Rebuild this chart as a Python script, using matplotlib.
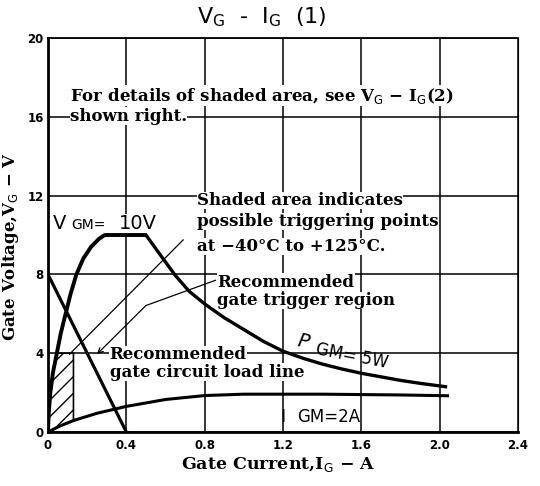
import matplotlib
matplotlib.use("Agg")
import matplotlib.pyplot as plt

# gate characteristic curves (I in A, V in V)
vgm_i = [0, 0.004, 0.012, 0.025, 0.045, 0.065, 0.09, 0.115, 0.145, 0.18, 0.22, 0.26, 0.29, 0.5]
vgm_v = [0, 1.0, 2.0, 3.0, 4.0, 5.0, 6.0, 7.0, 8.0, 8.8, 9.4, 9.8, 10.0, 10.0]

pgm_i = [0.5, 0.54, 0.58, 0.65, 0.72, 0.8, 0.9, 1.0, 1.1, 1.2, 1.3, 1.4, 1.5, 1.6, 1.7, 1.8, 1.9, 2.03]
pgm_v = [10.0, 9.45, 8.9, 7.95, 7.15, 6.5, 5.8, 5.2, 4.6, 4.1, 3.75, 3.45, 3.2, 2.98, 2.8, 2.62, 2.47, 2.3]

load_i = [0, 0.4]
load_v = [8, 0]

igm_i = [0, 0.06, 0.13, 0.25, 0.4, 0.6, 0.8, 1.0, 1.4, 1.8, 2.04]
igm_v = [0, 0.3, 0.58, 0.95, 1.3, 1.65, 1.85, 1.92, 1.92, 1.88, 1.84]

# hatched "possible triggering points" area
shade_i = [0, 0.004, 0.012, 0.025, 0.045, 0.13, 0.13, 0.06, 0]
shade_v = [0, 1.0, 2.0, 3.0, 4.0, 4.0, 0.58, 0.3, 0]

# leader lines of the notes
lead_shaded_i = [0.69, 0.11]
lead_shaded_v = [9.75, 3.95]
lead_region_i = [0.855, 0.5]
lead_region_v = [7.7, 6.42]
lead_region_tip = (0.25, 3.95)

x_ticks = [0, 0.4, 0.8, 1.2, 1.6, 2.0, 2.4]
x_labels = ["0", "0.4", "0.8", "1.2", "1.6", "2.0", "2.4"]
y_ticks = [0, 4, 8, 12, 16, 20]
y_labels = ["0", "4", "8", "12", "16", "20"]

serif = "DejaVu Serif"
sans = "DejaVu Sans"

fig = plt.figure(figsize=(5.4, 4.86), dpi=100)
ax = fig.add_axes([48 / 540, 1 - 432 / 486, 470 / 540, 394 / 486])
ax.set_xlim(0, 2.4)
ax.set_ylim(0, 20)

ax.set_xticks(x_ticks)
ax.set_xticklabels(x_labels, fontsize=8.5, fontweight="bold", family=sans)
ax.set_yticks(y_ticks)
ax.set_yticklabels(y_labels, fontsize=8.5, fontweight="bold", family=sans)
ax.tick_params(axis="x", length=0, pad=5)
ax.tick_params(axis="y", length=0, pad=3)
ax.grid(True, color="black", lw=1.1)
ax.set_axisbelow(True)
for s in ["left", "bottom"]:
    ax.spines[s].set_linewidth(2)
ax.spines["top"].set_linewidth(1.3)
ax.spines["right"].set_linewidth(0.8)

ax.fill(shade_i, shade_v, facecolor="white", edgecolor="black", hatch="//", lw=1.2, zorder=3)
ax.plot(vgm_i, vgm_v, color="black", lw=2.8, solid_capstyle="butt", zorder=4)
ax.plot(pgm_i, pgm_v, color="black", lw=2.4, zorder=4)
ax.plot(load_i, load_v, color="black", lw=2.3, zorder=4)
ax.plot(igm_i, igm_v, color="black", lw=2.2, zorder=4)
ax.plot(lead_shaded_i, lead_shaded_v, color="black", lw=0.9, zorder=4)
ax.plot(lead_region_i, lead_region_v, color="black", lw=0.9, zorder=4)
ax.annotate("", xy=lead_region_tip, xytext=(lead_region_i[-1], lead_region_v[-1]),
            arrowprops=dict(arrowstyle="->", lw=0.9, color="black", mutation_scale=9,
                            shrinkA=0, shrinkB=0), zorder=4)

box = dict(facecolor="white", edgecolor="none", pad=0.3)
note = dict(family=serif, fontsize=12, fontweight="bold", va="baseline", bbox=box, zorder=5)

ax.text(0.112, 16.82, "For details of shaded area, see V$_\\mathrm{G}$ \u2212 I$_\\mathrm{G}$(2)", **note)
ax.text(0.112, 15.8, "shown right.", **note)

ax.text(0.76, 11.52, "Shaded area indicates", **note)
ax.text(0.76, 10.45, "possible triggering points", **note)
ax.text(0.76, 9.18, "at \u221240\u00b0C to +125\u00b0C.", **note)

ax.text(0.865, 7.38, "Recommended", **note)
ax.text(0.865, 6.45, "gate trigger region", **note)

ax.text(0.315, 3.69, "Recommended", **note)
ax.text(0.315, 2.81, "gate circuit load line", **note)

# rating labels, letters of different size as printed
lab = dict(family=sans, va="baseline", zorder=5)
ax.text(0.024, 10.31, "V", fontsize=14, bbox=box, **lab)
ax.text(0.12, 10.31, "GM=", fontsize=10, bbox=box, **lab)
ax.text(0.36, 10.31, "10V", fontsize=14, bbox=box, **lab)

ax.text(1.27, 4.35, "P", fontsize=14, style="italic", rotation=-11, rotation_mode="anchor", **lab)
ax.text(1.363, 3.95, "GM= 5W", fontsize=12, rotation=-11, rotation_mode="anchor", **lab)

ax.text(1.185, 0.51, "I", fontsize=13, **lab)
ax.text(1.273, 0.51, "GM=2A", fontsize=12, **lab)

ax.set_xlabel("Gate Current,I$_\\mathrm{G}$ \u2212 A", family=serif, fontsize=12.5, fontweight="bold")
ax.xaxis.set_label_coords(0.49, -0.058)
ax.set_ylabel("Gate Voltage,V$_\\mathrm{G}$ \u2212 V", family=serif, fontsize=12, fontweight="bold")
ax.yaxis.set_label_coords(-0.058, 0.47)

fig.text(262 / 540, 1 - 17 / 486, "V$_\\mathrm{G}$  -  I$_\\mathrm{G}$  (1)", family=sans,
         fontsize=16, ha="center", va="center")

fig.savefig("out.png", dpi=100)
